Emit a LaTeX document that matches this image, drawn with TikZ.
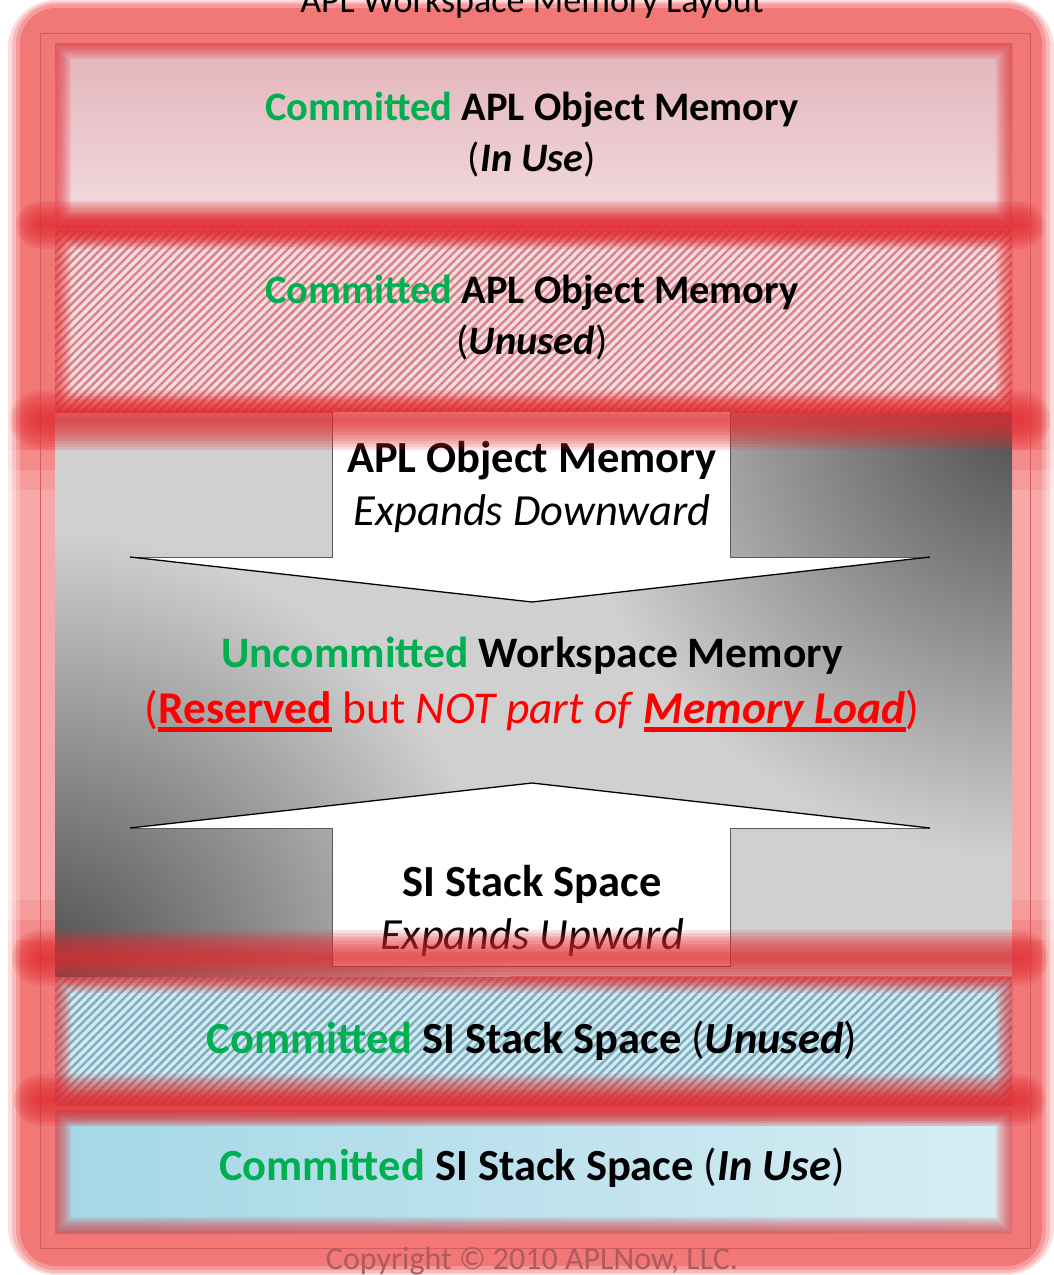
\documentclass[tikz,border=0pt]{standalone}
\usepackage{fontspec}
\setmainfont{Carlito}
\usetikzlibrary{patterns.meta}
\definecolor{framered}{RGB}{242,120,120}
\definecolor{glowred}{RGB}{225,45,50}
\definecolor{thinred}{RGB}{212,92,92}
\definecolor{grn}{RGB}{0,176,80}
\definecolor{bonetop}{RGB}{226,180,186}
\definecolor{bonebot}{RGB}{243,220,224}
\definecolor{btwobg}{RGB}{244,222,225}
\definecolor{btwoline}{RGB}{218,128,134}
\definecolor{gdark}{RGB}{72,72,72}
\definecolor{glight}{RGB}{208,208,208}
\definecolor{bthreebg}{RGB}{205,236,245}
\definecolor{bthreeline}{RGB}{130,170,185}
\definecolor{bfourl}{RGB}{165,215,230}
\definecolor{bfourr}{RGB}{215,237,244}
\definecolor{copyc}{RGB}{175,90,92}
\newcommand\thul[1]{\setbox0=\hbox{#1}\rlap{\raisebox{-0.17em}{\rule{\wd0}{0.1em}}}\box0\relax}
\newcommand\innerglow[4]{%
  \begin{scope}
    \clip (#1,#2) rectangle (#3,#4);
    \foreach \k in {1,...,8}{\draw[glowred,opacity=0.12,line width=4*\k] (#1,#2) rectangle (#3,#4);}
  \end{scope}}
\newcommand\glowh[4]{%
  \foreach \k in {1,...,10}{\draw[glowred,opacity=0.14,line width=#4*\k/10,line cap=round] (#1,#3) -- (#2,#3);}}
\tikzset{
  bandtext/.style={align=center,font=\fontsize{40.5}{51}\selectfont},
  bigtext/.style={align=center,font=\fontsize{44.5}{53}\selectfont},
  arrowfill/.style={fill=white},
  arrowside/.style={draw=gray!70!black,line width=0.8},
  arrowhead/.style={draw=black,line width=1.3,line join=miter},
  darkcorner/.style={inner color=gdark,outer color=glight}
}
\begin{document}
\begin{tikzpicture}[x=1pt,y=-1pt]
\useasboundingbox (0,0) rectangle (1054,1275);
% outer glowing frame
\fill[framered,opacity=0.25,rounded corners=48] (8,0) rectangle (1054,1275);
\fill[framered,opacity=0.35,rounded corners=44] (12,2) rectangle (1050,1273);
\fill[framered,opacity=0.5,rounded corners=40] (16,4) rectangle (1046,1270);
\fill[framered,rounded corners=36] (20,8) rectangle (1042,1266);
\foreach \a/\b in {450/940,470/920,490/900}{
  \fill[white,opacity=0.14] (8,\a) rectangle (55,\b);
  \fill[white,opacity=0.14] (1012,\a) rectangle (1054,\b);}
\draw[thinred,line width=0.8] (40,33) rectangle (1030,1248);
% band 1
\shade[top color=bonetop,bottom color=bonebot] (55,43) rectangle (1012,228);
\innerglow{55}{43}{1012}{228}
% band 2
\fill[btwobg] (55,230) rectangle (1012,412);
\fill[pattern={Lines[angle=45,distance=6pt,line width=2.4pt]},pattern color=btwoline] (55,230) rectangle (1012,412);
\innerglow{55}{230}{1012}{412}
% gray region
\begin{scope}
  \clip (55,413) rectangle (1012,976);
  \fill[glight] (55,413) rectangle (1012,976);
  \shade[darkcorner] (1040,400) ellipse (480 and 460);
  \shade[darkcorner] (30,990) ellipse (480 and 460);
\end{scope}
% down arrow
\path[arrowfill] (332,412) -- (730,412) -- (730,557) -- (930,557) -- (532,602) -- (130,557) -- (332,557) -- cycle;
\draw[arrowside] (332,412) -- (332,557) -- (130,557) (730,412) -- (730,557) -- (930,557);
\draw[arrowhead] (130,557) -- (532,602) -- (930,557);
% up arrow
\path[arrowfill] (532,783) -- (930,828) -- (730,828) -- (730,966) -- (332,966) -- (332,828) -- (130,828) -- cycle;
\draw[arrowside] (130,828) -- (332,828) -- (332,966) -- (730,966) -- (730,828) -- (930,828);
\draw[arrowhead] (130,828) -- (532,783) -- (930,828);
% band 3
\fill[bthreebg] (55,977) rectangle (1012,1105);
\fill[pattern={Lines[angle=45,distance=6pt,line width=2.4pt]},pattern color=bthreeline] (55,977) rectangle (1012,1105);
\innerglow{55}{977}{1012}{1105}
% band 4
\shade[left color=bfourl,right color=bfourr] (55,1110) rectangle (1012,1233);
\innerglow{55}{1110}{1012}{1233}
% texts
\node[anchor=base,font=\fontsize{36}{40}\selectfont] (title) at (532,12) {APL Workspace Memory Layout};
\node[bandtext] (inuse) at (532,135) {\textcolor{grn}{\textbf{Committed}} \textbf{APL Object Memory}\\(\textbf{\textit{In Use}})};
\node[bandtext] (unused) at (532,318) {\textcolor{grn}{\textbf{Committed}} \textbf{APL Object Memory}\\(\textbf{\textit{Unused}})};
\node[bigtext] (down) at (532,487) {\textbf{APL Object Memory}\\\textit{Expands Downward}};
\node[bigtext,font=\fontsize{43.5}{53}\selectfont] (uncom) at (532,656) {\textcolor{grn}{\textbf{Uncommitted}} \textbf{Workspace Memory}};
\node[bigtext,text=red,font=\fontsize{45.5}{53}\selectfont] (reserved) at (532,711) {(\thul{\textbf{Reserved}} but \textit{NOT part of} \thul{\textbf{\textit{Memory Load}}})};
\node[bigtext] (up) at (532,911) {\textbf{SI Stack Space}\\\textit{Expands Upward}};
\node[bigtext] (siunused) at (532,1041) {\textcolor{grn}{\textbf{Committed}} \textbf{SI Stack Space} (\textbf{\textit{Unused}})};
\node[bigtext] (siinuse) at (532,1168) {\textcolor{grn}{\textbf{Committed}} \textbf{SI Stack Space} (\textbf{\textit{In Use}})};
\node[text=copyc,font=\fontsize{32}{36}\selectfont] (copy) at (532,1261) {Copyright © 2010 APLNow, LLC.};
% glow bands
\glowh{40}{1020}{225}{48}
\glowh{40}{1020}{420}{60}
\glowh{40}{1020}{958}{56}
\glowh{40}{1020}{1100}{52}
\end{tikzpicture}
\end{document}
